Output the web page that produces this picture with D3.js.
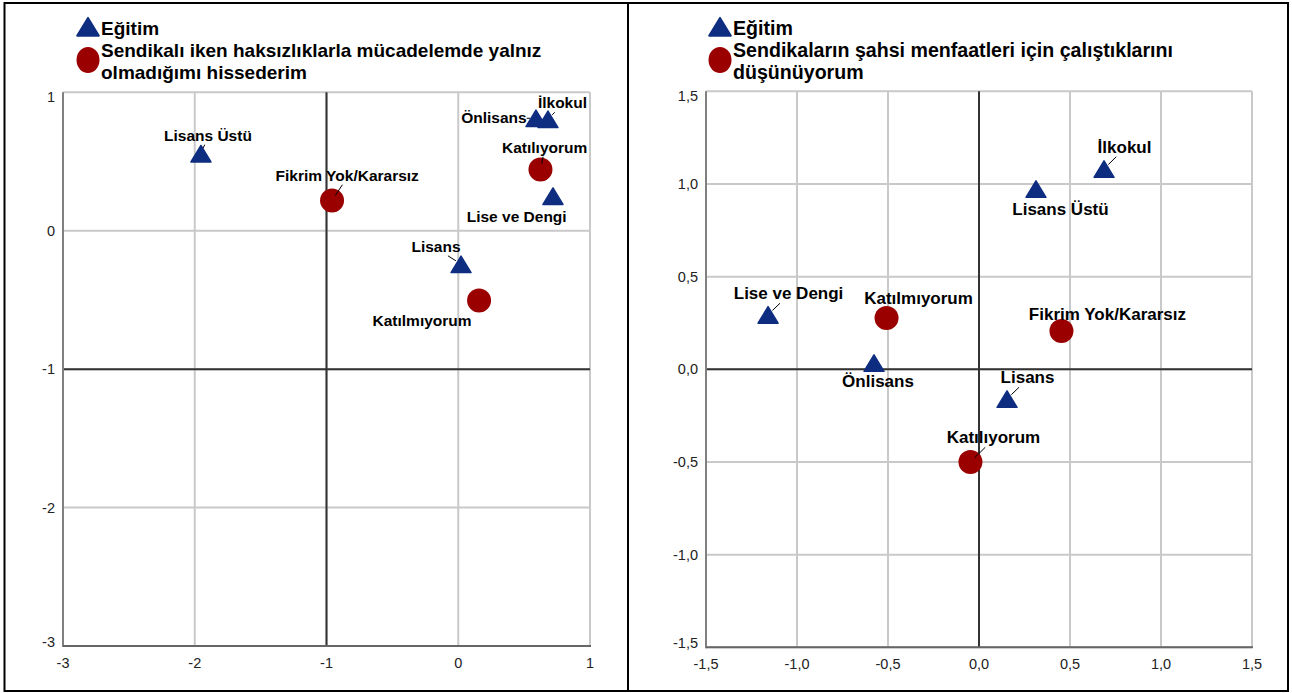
<!DOCTYPE html>
<html>
<head>
<meta charset="utf-8">
<script src="https://cdn.jsdelivr.net/npm/d3@7"></script>
<style>
  body { margin: 0; background: #fff; }
  svg { display: block; }
  text { font-family: "Liberation Sans", Arial, sans-serif; }
</style>
</head>
<body>
<svg id="chart" width="1292" height="693"></svg>
<script>
// ---- categories ----
const educationLevels = ["İlkokul", "Lise ve Dengi", "Önlisans", "Lisans", "Lisans Üstü"];
const opinionLevels = ["Katılıyorum", "Fikrim Yok/Kararsız", "Katılmıyorum"];

// ---- panel 1: category coordinates (dimension 1, dimension 2) ----
const p1EduDim1 = [0.681, 0.719, 0.590, 0.021, -1.953];
const p1EduDim2 = [0.807, 0.251, 0.814, -0.241, 0.558];
const p1OpDim1 = [0.624, -0.958, 0.158];
const p1OpDim2 = [0.442, 0.218, -0.504];

// ---- panel 2: category coordinates (dimension 1, dimension 2) ----
const p2EduDim1 = [0.687, -1.159, -0.577, 0.154, 0.313];
const p2EduDim2 = [1.082, 0.295, 0.035, -0.159, 0.974];
const p2OpDim1 = [-0.047, 0.453, -0.508];
const p2OpDim2 = [-0.500, 0.207, 0.277];

// ---- axis ticks ----
const p1Ticks = [-3, -2, -1, 0, 1];
const p2Ticks = [-1.5, -1.0, -0.5, 0.0, 0.5, 1.0, 1.5];

// ---- legend texts ----
const seriesName = "Eğitim";
const p1Question = ["Sendikalı iken haksızlıklarla mücadelemde yalnız", "olmadığımı hissederim"];
const p2Question = ["Sendikaların şahsi menfaatleri için çalıştıklarını", "düşünüyorum"];

const BLUE = "#0f2d80";
const RED = "#9a0000";

// Turkish number format: comma decimal, plain hyphen minus
const trLocale = d3.formatLocale({ decimal: ",", thousands: ".", grouping: [3], currency: ["", ""], minus: "-" });

const svg = d3.select("#chart");

// page frame (table cell borders)
const frame = svg.append("g").attr("stroke", "#000").attr("stroke-width", 2);
frame.append("rect").attr("x", 4.5).attr("y", 3).attr("width", 1283.5).attr("height", 688).attr("fill", "none");
frame.append("line").attr("x1", 628).attr("x2", 628).attr("y1", 3).attr("y2", 691);

// label placement around each marker: [dx, dy of centred baseline, leader line]
const p1Layout = {
  edu: [[14.5, -10.7, true], [-36.3, 26.3, false], [-42, 4.7, true], [-25, -12.3, true], [7, -12.8, true]],
  op: [[4.2, -16.8, true], [15.2, -19.8, true], [-57, 25.2, false]]
};
const p2Layout = {
  edu: [[20.5, -16, true], [20.5, -15.4, true], [4, 24, false], [20.5, -15.5, true], [24.5, 26, false]],
  op: [[23, -18.7, true], [46, -11, false], [32, -14, false]]
};

const trianglePath = "M0,-8.5 L10,8 L-10,8 Z";

function drawPanel(cfg) {
  const g = svg.append("g");
  const x = d3.scaleLinear().domain(cfg.domain).range([cfg.left, cfg.right]);
  const y = d3.scaleLinear().domain(cfg.domain).range([cfg.bottom, cfg.top]);

  // grid
  const grid = g.append("g").attr("stroke", "#c9c9c9").attr("stroke-width", 2);
  grid.selectAll("line.gx").data(cfg.ticks).join("line").attr("class", "gx")
    .attr("x1", d => x(d)).attr("x2", d => x(d))
    .attr("y1", cfg.top).attr("y2", cfg.bottom);
  grid.selectAll("line.gy").data(cfg.ticks).join("line").attr("class", "gy")
    .attr("y1", d => y(d)).attr("y2", d => y(d))
    .attr("x1", cfg.left).attr("x2", cfg.right);

  // reference lines
  g.append("line").attr("x1", x(cfg.refX)).attr("x2", x(cfg.refX))
    .attr("y1", cfg.top).attr("y2", cfg.bottom).attr("stroke", "#333").attr("stroke-width", 2);
  g.append("line").attr("y1", y(cfg.refY)).attr("y2", y(cfg.refY))
    .attr("x1", cfg.left).attr("x2", cfg.right).attr("stroke", "#333").attr("stroke-width", 2);

  // axis lines
  g.append("line").attr("x1", cfg.left).attr("x2", cfg.left)
    .attr("y1", cfg.top).attr("y2", cfg.bottom + 1).attr("stroke", "#808080").attr("stroke-width", 2);
  g.append("line").attr("x1", cfg.left).attr("x2", cfg.right + 1)
    .attr("y1", cfg.bottom).attr("y2", cfg.bottom).attr("stroke", "#666").attr("stroke-width", 2);

  // tick labels
  const fmt = cfg.fmt;
  const tickG = g.append("g").attr("font-size", 14.5).attr("fill", "#222");
  tickG.selectAll("text.tx").data(cfg.ticks).join("text").attr("class", "tx")
    .attr("x", d => x(d)).attr("y", cfg.bottom + 22)
    .attr("text-anchor", "middle").text(fmt);
  tickG.selectAll("text.ty").data(cfg.ticks).join("text").attr("class", "ty")
    .attr("x", cfg.left - 8)
    .attr("y", d => Math.min(Math.max(y(d), cfg.top + 5), cfg.bottom - 4))
    .attr("dy", "0.35em")
    .attr("text-anchor", "end").text(fmt);

  // points
  const edu = educationLevels.map((name, i) => ({ name, x: cfg.eduX[i], y: cfg.eduY[i], lay: cfg.layout.edu[i] }));
  const op = opinionLevels.map((name, i) => ({ name, x: cfg.opX[i], y: cfg.opY[i], lay: cfg.layout.op[i] }));
  const all = edu.concat(op);

  g.selectAll("path.tri").data(edu).join("path").attr("class", "tri")
    .attr("d", trianglePath)
    .attr("transform", d => `translate(${x(d.x)},${y(d.y) + 0.5})`)
    .attr("fill", BLUE).attr("stroke", BLUE).attr("stroke-width", 1.5).attr("stroke-linejoin", "round");
  g.selectAll("circle.pt").data(op).join("circle").attr("class", "pt")
    .attr("cx", d => x(d.x)).attr("cy", d => y(d.y)).attr("r", 12)
    .attr("fill", RED);

  // labels
  const labels = g.selectAll("text.lbl").data(all).join("text").attr("class", "lbl")
    .attr("x", d => x(d.x) + d.lay[0]).attr("y", d => y(d.y) + d.lay[1])
    .attr("text-anchor", "middle").attr("font-weight", "bold")
    .attr("font-size", cfg.labelSize).attr("fill", "#000")
    .text(d => d.name);

  // short leader lines from marker toward the centre of its label
  labels.each(function (d) {
    if (!d.lay[2]) return;
    const b = this.getBBox();
    const px = x(d.x), py = y(d.y);
    const base = y(d.y) + d.lay[1];
    const x0 = b.x, x1 = b.x + b.width, y0 = base - cfg.labelSize * 0.72, y1 = base + 4;
    const cx = (x0 + x1) / 2, cy = (y0 + y1) / 2;
    const dx = cx - px, dy = cy - py;
    // first crossing of the ray with the label box
    let t = Infinity;
    if (dx > 0) t = Math.min(t, (x0 - px) / dx); else if (dx < 0) t = Math.min(t, (x1 - px) / dx);
    if (dy > 0) t = Math.min(t, (y0 - py) / dy); else if (dy < 0) t = Math.min(t, (y1 - py) / dy);
    const tx = [(x0 - px) / dx, (x1 - px) / dx].filter(v => isFinite(v) && v > 0);
    const ty = [(y0 - py) / dy, (y1 - py) / dy].filter(v => isFinite(v) && v > 0);
    const cand = tx.concat(ty).filter(v => {
      const ex = px + dx * v, ey = py + dy * v;
      return ex >= x0 - 0.5 && ex <= x1 + 0.5 && ey >= y0 - 0.5 && ey <= y1 + 0.5;
    });
    if (cand.length) t = Math.min(...cand);
    if (!isFinite(t)) return;
    const ex = px + dx * t, ey = py + dy * t;
    const len = Math.hypot(ex - px, ey - py);
    if (len < 5) return;
    const s = Math.min(6, len - 3) / len;
    g.append("line")
      .attr("x1", px + (ex - px) * s).attr("y1", py + (ey - py) * s)
      .attr("x2", ex).attr("y2", ey)
      .attr("stroke", "#000").attr("stroke-width", 1);
  });

  // legend
  const lg = g.append("g");
  lg.append("path").attr("d", trianglePath)
    .attr("transform", `translate(${cfg.legendX},${cfg.legendY + 1}) scale(1.1)`)
    .attr("fill", BLUE).attr("stroke", BLUE).attr("stroke-width", 1.5).attr("stroke-linejoin", "round");
  lg.append("ellipse").attr("cx", cfg.legendX).attr("cy", cfg.legendY + 34)
    .attr("rx", 11.5).attr("ry", 13).attr("fill", RED);
  const lt = lg.append("g").attr("font-weight", "bold").attr("font-size", cfg.legendSize).attr("fill", "#000");
  lt.append("text").attr("x", cfg.legendX + 13).attr("y", cfg.legendY + 9).text(seriesName);
  lt.selectAll("text.q").data(cfg.question).join("text").attr("class", "q")
    .attr("x", cfg.legendX + 13).attr("y", (d, i) => cfg.legendY + 31 + i * 22).text(d => d);
}

drawPanel({
  domain: [-3, 1], ticks: p1Ticks, fmt: trLocale.format("d"),
  left: 63, right: 590, top: 92.3, bottom: 646,
  refX: -1, refY: -1,
  eduX: p1EduDim1, eduY: p1EduDim2, opX: p1OpDim1, opY: p1OpDim2,
  layout: p1Layout, labelSize: 15.5,
  legendX: 88, legendY: 26, legendSize: 19, question: p1Question
});

drawPanel({
  domain: [-1.5, 1.5], ticks: p2Ticks, fmt: trLocale.format(".1f"),
  left: 706, right: 1252, top: 91.3, bottom: 647.3,
  refX: 0, refY: 0,
  eduX: p2EduDim1, eduY: p2EduDim2, opX: p2OpDim1, opY: p2OpDim2,
  layout: p2Layout, labelSize: 17,
  legendX: 720, legendY: 26, legendSize: 19.6, question: p2Question
});
</script>
</body>
</html>
